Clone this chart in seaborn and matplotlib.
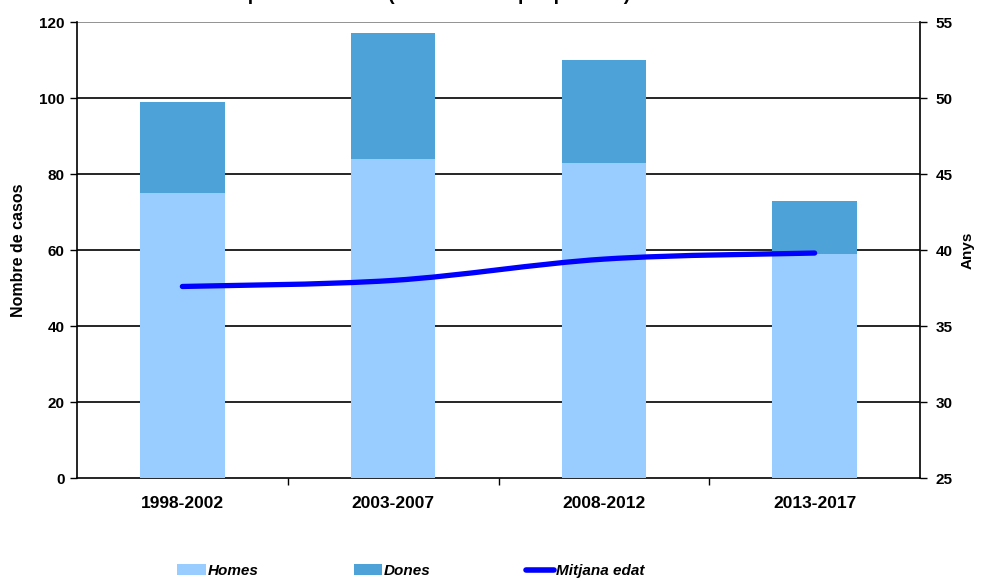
import numpy as np
import pandas as pd
import matplotlib
matplotlib.use("Agg")
import matplotlib.pyplot as plt
from matplotlib.path import Path
from matplotlib.patches import PathPatch, Patch
from matplotlib.lines import Line2D
import seaborn as sns

# Data
periodes = ["1998-2002", "2003-2007", "2008-2012", "2013-2017"]
homes = [75, 84, 83, 59]
dones = [24, 33, 27, 14]
mitjana_edat = [37.6, 38.0, 39.4, 39.8]

sns.set_theme(style="white")
plt.rcParams['font.family'] = ['Liberation Sans', 'DejaVu Sans']
plt.rcParams['font.weight'] = 'bold'
plt.rcParams['text.color'] = 'black'
plt.rcParams['xtick.color'] = 'black'
plt.rcParams['ytick.color'] = 'black'
plt.rcParams['axes.labelcolor'] = 'black'

color_homes = "#99CCFF"
color_dones = "#4DA3D8"
color_line = "#0000FF"

df = pd.DataFrame({"periode": periodes, "Homes": homes, "Dones": dones})
df["total"] = df["Homes"] + df["Dones"]

fig = plt.figure(figsize=(9.81, 5.81), dpi=100)
ax = fig.add_axes([77 / 981, 1 - 478 / 581, 843 / 981, 456 / 581])

# stacked bars: total first (Dones colour), Homes on top of it
sns.barplot(data=df, x="periode", y="total", color=color_dones, width=0.4,
            saturation=1, ax=ax, zorder=2, linewidth=0)
sns.barplot(data=df, x="periode", y="Homes", color=color_homes, width=0.4,
            saturation=1, ax=ax, zorder=3, linewidth=0)

ax.set_xlim(-0.5, 3.5)
ax.set_ylim(0, 120)
ax.set_yticks(np.arange(0, 121, 20))
for yv in np.arange(20, 121, 20):
    ax.axhline(yv, color="#808080" if yv == 120 else "black", lw=1.2, zorder=1)

ax.set_xlabel("")
ax.set_ylabel("Nombre de casos", fontsize=11.5, fontweight="bold", labelpad=9)
ax.tick_params(axis="y", which="both", direction="out", length=5, width=1,
               color="black", labelsize=11, pad=4, left=True)
ax.set_xticks([0, 1, 2, 3])
ax.set_xticklabels(periodes, fontsize=12.5, fontweight="bold")
ax.tick_params(axis="x", length=0, pad=13)
ax.set_xticks([0.5, 1.5, 2.5], minor=True)
ax.tick_params(axis="x", which="minor", direction="out", length=5, width=1,
               color="black", bottom=True)
for s in ["top", "right"]:
    ax.spines[s].set_visible(False)
for s in ["left", "bottom"]:
    ax.spines[s].set_color("black")
    ax.spines[s].set_linewidth(1.2)

# secondary axis for mean age
ax2 = ax.twinx()
ax2.set_ylim(25, 55)
ax2.set_yticks(np.arange(25, 56, 5))
ax2.tick_params(axis="y", direction="out", length=5, width=1, color="black",
                labelsize=11, pad=6, right=True)
ax2.set_ylabel("Anys", fontsize=11, fontweight="bold", labelpad=6)
for s in ["top", "left", "bottom"]:
    ax2.spines[s].set_visible(False)
ax2.spines["right"].set_color("black")
ax2.spines["right"].set_linewidth(1.2)
ax2.grid(False)

# smoothed line (Catmull-Rom style Bezier through the data points)
xs = np.arange(len(mitjana_edat), dtype=float)
ys = np.array(mitjana_edat, dtype=float)
verts = [(xs[0], ys[0])]
codes = [Path.MOVETO]
for i in range(len(xs) - 1):
    p0 = (xs[max(i - 1, 0)], ys[max(i - 1, 0)])
    p1 = (xs[i], ys[i])
    p2 = (xs[i + 1], ys[i + 1])
    p3 = (xs[min(i + 2, len(xs) - 1)], ys[min(i + 2, len(xs) - 1)])
    c1 = (p1[0] + (p2[0] - p0[0]) / 6, p1[1] + (p2[1] - p0[1]) / 6)
    c2 = (p2[0] - (p3[0] - p1[0]) / 6, p2[1] - (p3[1] - p1[1]) / 6)
    verts += [c1, c2, p2]
    codes += [Path.CURVE4] * 3
ax2.add_patch(PathPatch(Path(verts, codes), facecolor="none", edgecolor=color_line,
                        lw=3.8, capstyle="round", joinstyle="round", zorder=5))

# partly clipped title at the top (as in the reference)
fig.text(80 / 981, 1.0, "Nombre de casos per sexe i edat (nombre total per període)",
         fontsize=14, fontweight="bold", ha="left", va="baseline")

# legend
handles = [Patch(facecolor=color_homes, edgecolor="none"),
           Patch(facecolor=color_dones, edgecolor="none"),
           Line2D([0], [0], color=color_line, lw=4, solid_capstyle="round")]
labels = ["Homes", "Dones", "Mitjana edat"]
leg = fig.legend(handles, labels, loc="center", bbox_to_anchor=(411 / 981, 1 - 571 / 581),
                 ncol=3, frameon=False, columnspacing=6.2, handlelength=1.85,
                 handletextpad=0.15, prop={"size": 11, "weight": "bold", "style": "italic"})

fig.savefig("out.png", dpi=100)
